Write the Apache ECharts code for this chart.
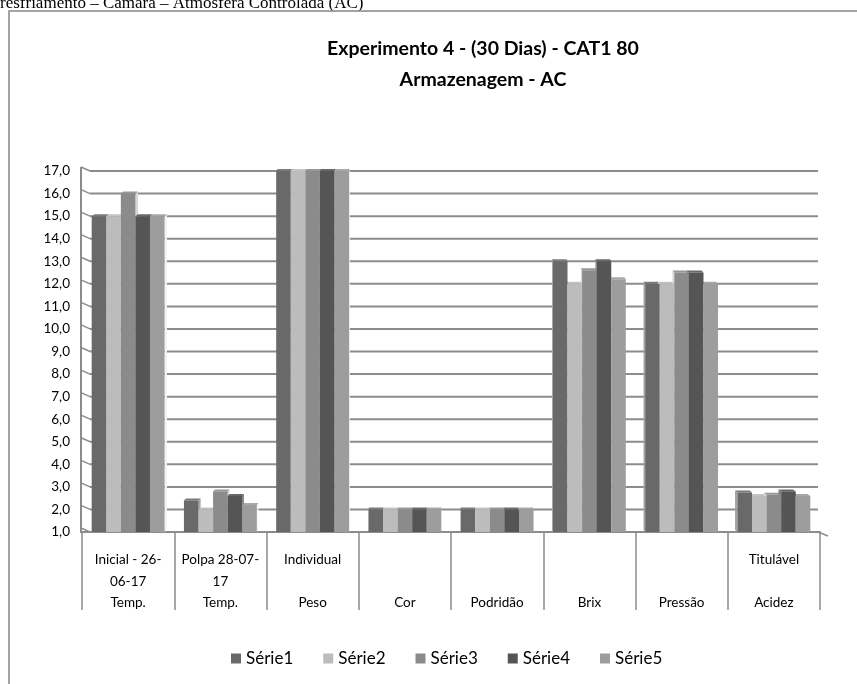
<!DOCTYPE html>
<html>
<head>
<meta charset="utf-8">
<script src="https://cdn.jsdelivr.net/npm/echarts@6.0.0/dist/echarts.min.js"></script>
<style>
  html, body { margin: 0; padding: 0; background: #ffffff; }
  #chart { width: 857px; height: 684px; }
</style>
</head>
<body>
<div id="chart"></div>
<script>
// Two-level category labels: detail line(s) on top, measured attribute below
const subLabels = ['Inicial - 26-\n06-17', 'Polpa 28-07-\n17', 'Individual', '', '', '', '', 'Titulável'];
const groupLabels = ['Temp.', 'Temp.', 'Peso', 'Cor', 'Podridão', 'Brix', 'Pressão', 'Acidez'];

const seriesNames = ['Série1', 'Série2', 'Série3', 'Série4', 'Série5'];
const seriesColors = ['#696969', '#bcbcbc', '#8b8b8b', '#555555', '#9d9d9d'];

const serie1 = [15, 2.4, 17, 2, 2, 13, 12, 2.75];
const serie2 = [15, 2.0, 17, 2, 2, 12, 12, 2.6];
const serie3 = [16, 2.8, 17, 2, 2, 12.6, 12.5, 2.65];
const serie4 = [15, 2.6, 17, 2, 2, 13, 12.5, 2.8];
const serie5 = [15, 2.2, 17, 2, 2, 12.2, 12, 2.6];
const seriesValues = [serie1, serie2, serie3, serie4, serie5];

const Y_MIN = 1, Y_MAX = 17, Y_STEP = 1;
const yTicks = [];
for (let v = Y_MIN; v <= Y_MAX; v += Y_STEP) yTicks.push(v);

const GRID_COLOR = '#8c8c8c';
const FONT = 'Lato, "Open Sans", sans-serif';

const chart = echarts.init(document.getElementById('chart'), null, { renderer: 'canvas' });

// Column with a thin perspective side face and top face
function columnRenderer(sIdx) {
  return function (params, api) {
    const ci = api.value(0);
    const v = api.value(1);
    const band = api.size([1, 0])[0];
    const top = api.coord([ci, v]);
    const base = api.coord([ci, Y_MIN]);
    const groupW = band * 0.79;
    const bw = groupW / seriesNames.length;
    const x0 = top[0] - groupW / 2 + sIdx * bw;
    const x1 = x0 + bw;
    const yTop = top[1], yBot = base[1];
    const cs = params.coordSys;
    const midX = cs.x + cs.width / 2;
    const d = ((midX - (x0 + x1) / 2) / (cs.width / 2)) * 3;
    const dy = 2;
    const color = api.visual('color');
    const xs = d >= 0 ? x1 : x0;
    const side = [[xs, yTop], [xs + d, yTop - dy], [xs + d, yBot - dy], [xs, yBot]];
    const cap = [[x0, yTop], [x1, yTop], [x1 + d, yTop - dy], [x0 + d, yTop - dy]];
    return {
      type: 'group',
      children: [
        { type: 'polygon', shape: { points: side }, style: { fill: echarts.color.lift(color, -0.55) }, z2: 1 },
        { type: 'polygon', shape: { points: cap }, style: { fill: echarts.color.lift(color, 0.12) }, z2: 1 },
        { type: 'rect', shape: { x: x0, y: yTop, width: bw, height: yBot - yTop }, style: { fill: color }, z2: 5 }
      ]
    };
  };
}

// Back wall gridlines with the short side-wall segment at their left end
function wallRenderer(params, api) {
  const v = api.value(0);
  const cs = params.coordSys;
  const y = api.coord([0, v])[1];
  const children = [
    { type: 'line', shape: { x1: cs.x - 1, y1: y - 4, x2: cs.x + 8, y2: y }, style: { stroke: GRID_COLOR, lineWidth: 1.5 } },
    { type: 'line', shape: { x1: cs.x + 8, y1: y, x2: cs.x + cs.width - 2, y2: y }, style: { stroke: GRID_COLOR, lineWidth: 2 } }
  ];
  if (v === Y_MIN) {
    // left wall edge and floor right corner
    const yTopWall = api.coord([0, Y_MAX])[1] - 4;
    children.push({ type: 'line', shape: { x1: cs.x - 1, y1: yTopWall, x2: cs.x - 1, y2: y + 1 }, style: { stroke: GRID_COLOR, lineWidth: 2 } });
    children.push({ type: 'line', shape: { x1: cs.x + cs.width - 2, y1: y, x2: cs.x + cs.width + 8, y2: y + 4 }, style: { stroke: GRID_COLOR, lineWidth: 1.5 } });
  }
  return { type: 'group', children: children };
}

const series = [{
  type: 'custom',
  name: 'wall',
  z: 1,
  silent: true,
  renderItem: wallRenderer,
  encode: { y: 0 },
  data: yTicks.map(v => [v])
}];
seriesNames.forEach((name, s) => {
  series.push({
    type: 'custom',
    name: name,
    z: 2,
    itemStyle: { color: seriesColors[s] },
    renderItem: columnRenderer(s),
    encode: { x: 0, y: 1 },
    data: seriesValues[s].map((v, i) => [i, v])
  });
});

chart.setOption({
  animation: false,
  backgroundColor: '#ffffff',
  grid: { left: 82, right: 37, top: 171, bottom: 152 },
  xAxis: {
    type: 'category',
    data: groupLabels.map((g, i) => i),
    boundaryGap: true,
    axisLine: { show: true, lineStyle: { color: GRID_COLOR, width: 2 } },
    axisTick: { show: true, interval: 0, length: 78, lineStyle: { color: GRID_COLOR, width: 1.5 } },
    axisLabel: {
      interval: 0,
      margin: 17,
      color: '#000000',
      fontFamily: FONT,
      fontSize: 13.5,
      lineHeight: 21.5,
      verticalAlign: 'top',
      formatter: function (val, i) {
        const lines = subLabels[i].split('\n');
        while (lines.length < 2) lines.push('');
        return lines.join('\n') + '\n' + groupLabels[i];
      }
    },
    splitLine: { show: false }
  },
  yAxis: {
    type: 'value',
    min: Y_MIN,
    max: Y_MAX,
    interval: Y_STEP,
    axisLine: { show: false },
    axisTick: { show: false },
    splitLine: { show: false },
    axisLabel: {
      margin: 12,
      color: '#000000',
      fontFamily: FONT,
      fontSize: 13.5,
      padding: [0, 0, 4, 0],
      formatter: v => v.toFixed(1).replace('.', ',')
    }
  },
  legend: {
    data: seriesNames,
    left: 226,
    top: 645,
    icon: 'rect',
    itemWidth: 10,
    itemHeight: 10,
    itemGap: 30,
    textStyle: { color: '#000000', fontFamily: FONT, fontSize: 17 }
  },
  graphic: [
    {
      type: 'text',
      left: 0,
      top: -5,
      style: {
        text: 'resfriamento – Câmara – Atmosfera Controlada (AC)',
        font: '17px "Liberation Serif", "Times New Roman", serif',
        fill: '#000000'
      }
    },
    {
      type: 'rect',
      shape: { x: 9, y: 11, width: 1000, height: 1000 },
      style: { fill: 'none', stroke: '#868686', lineWidth: 1.5 },
      silent: true
    },
    {
      type: 'text',
      x: 483,
      y: 33,
      style: {
        text: 'Experimento 4 - (30 Dias) - CAT1 80\nArmazenagem - AC',
        font: 'bold 19.5px Lato, "Open Sans", sans-serif',
        lineHeight: 31,
        align: 'center',
        verticalAlign: 'top',
        fill: '#000000'
      }
    }
  ],
  series: series
});
</script>
</body>
</html>
